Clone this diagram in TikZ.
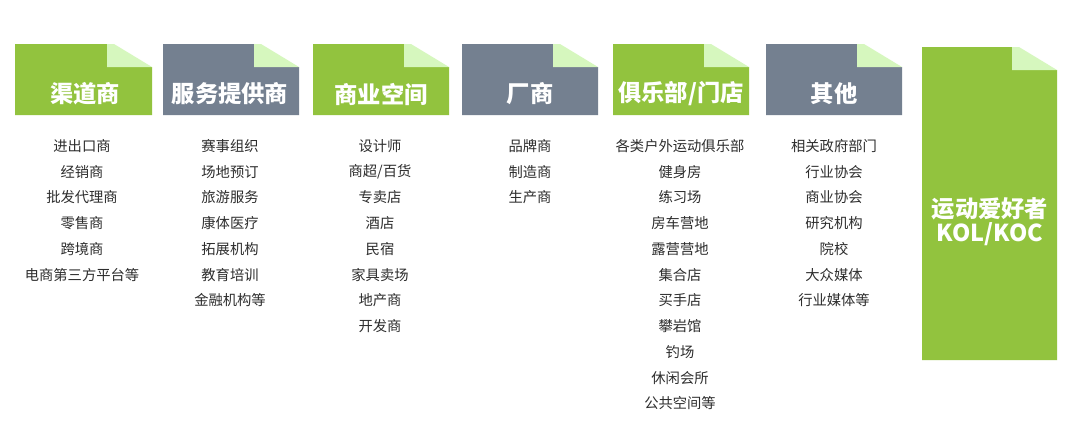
\documentclass[tikz,border=0pt]{standalone}
\usepackage{fontspec}
\setmainfont{Noto Sans CJK SC}
\definecolor{hgreen}{RGB}{146,195,62}
\definecolor{hgray}{RGB}{116,128,144}
\definecolor{hfold}{RGB}{214,247,190}
\definecolor{itemtxt}{RGB}{45,45,45}
\newcommand\foldbox[5]{%
  \fill[#5] (#1,#2) -- (#3-45,#2) -- (#3-45,#2+23) -- (#3,#2+23) -- (#3,#4) -- (#1,#4) -- cycle;
  \fill[hfold] (#3-45,#2) -- (#3-38,#2) -- (#3,#2+23) -- (#3-45,#2+23) -- cycle;
}
\begin{document}
\begin{tikzpicture}[x=1pt,y=-1pt,
  head/.style={text=white,font=\fontsize{23.3}{26}\selectfont\bfseries,inner sep=0pt},
  item/.style={text=itemtxt,font=\fontsize{14.3}{16}\selectfont,inner sep=0pt}]
\useasboundingbox[fill=white] (0,0) rectangle (1080,421);
\foldbox{15}{44}{152}{115}{hgreen}
\foldbox{163}{44}{299}{115}{hgray}
\foldbox{313}{44}{449}{115}{hgreen}
\foldbox{462}{44}{598}{115}{hgray}
\foldbox{613}{44}{749}{115}{hgreen}
\foldbox{766}{44}{902}{115}{hgray}
\foldbox{922}{47}{1057}{360}{hgreen}
\node[head] (h1) at (85,94) {渠道商};
\node[head] (h2) at (230,94) {服务提供商};
\node[head] (h3) at (381,94) {商业空间};
\node[head] (h4) at (530,94) {厂商};
\node[head] (h5) at (681,94) {俱乐部/门店};
\node[head] (h6) at (834,94) {其他};
\node[head,align=center,font=\fontsize{23.3}{24}\selectfont\bfseries] (h7) at (990,222) {运动爱好者\\KOL/KOC};
\foreach \t [count=\i from 0] in {进出口商,经销商,批发代理商,零售商,跨境商,电商第三方平台等}
  \node[item] (a\i) at (82,146+25.75*\i) {\t};
\foreach \t [count=\i from 0] in {赛事组织,场地预订,旅游服务,康体医疗,拓展机构,教育培训,金融机构等}
  \node[item] (b\i) at (230,146+25.75*\i) {\t};
\foreach \t [count=\i from 0] in {设计师,商超/百货,专卖店,酒店,民宿,家具卖场,地产商,开发商}
  \node[item] (c\i) at (380,146+25.75*\i) {\t};
\foreach \t [count=\i from 0] in {品牌商,制造商,生产商}
  \node[item] (d\i) at (530,146+25.75*\i) {\t};
\foreach \t [count=\i from 0] in {各类户外运动俱乐部,健身房,练习场,房车营地,露营营地,集合店,买手店,攀岩馆,钓场,休闲会所,公共空间等}
  \node[item] (e\i) at (680,146+25.75*\i) {\t};
\foreach \t [count=\i from 0] in {相关政府部门,行业协会,商业协会,研究机构,院校,大众媒体,行业媒体等}
  \node[item] (f\i) at (834,146+25.75*\i) {\t};
\end{tikzpicture}
\end{document}
